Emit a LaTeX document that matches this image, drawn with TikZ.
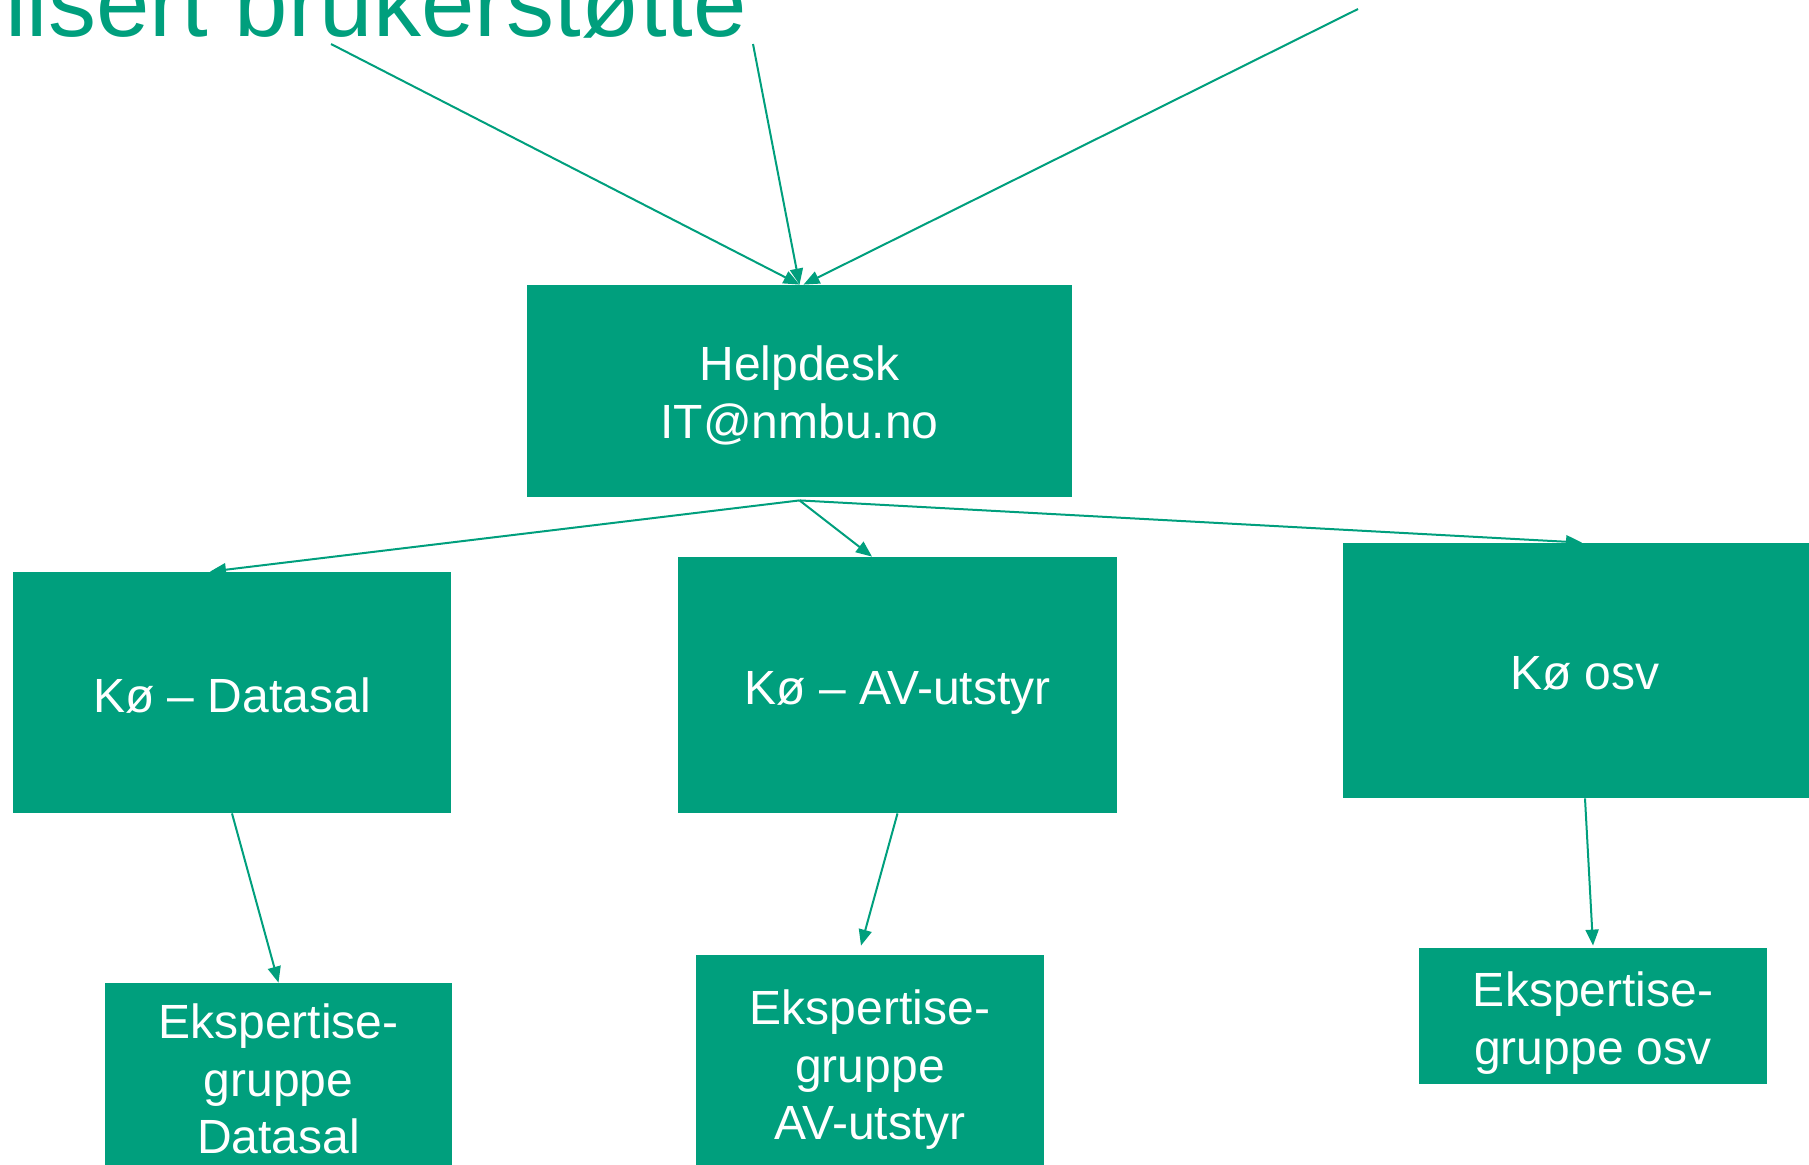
\documentclass[tikz,border=0pt]{standalone}
\usepackage{fontspec}
\setmainfont{Liberation Sans}
\usetikzlibrary{arrows.meta}
\definecolor{nmbu}{HTML}{009F7D}
\begin{document}
\begin{tikzpicture}[x=0.5pt,y=-0.5pt,
  box/.style={rectangle, fill=nmbu, inner sep=0pt},
  txt/.style={text=white, inner sep=0pt, align=center,
    font=\fontsize{24pt}{28.8pt}\selectfont},
  conn/.style={draw=nmbu, line width=1pt, -{Triangle[length=8pt,width=6.5pt]}}]
\useasboundingbox (0,0) rectangle (1809,1164);
\clip (0,0) rectangle (1809,1164);
\node[anchor=base west, inner sep=0pt, text=nmbu, font=\fontsize{48pt}{57pt}\selectfont] (title) at (5,36) {lisert brukerstøtte};
\coordinate (s1) at (331,44);
\coordinate (s2) at (753,44);
\coordinate (s3) at (1358,9);
\node[box, minimum width=272.5pt, minimum height=106pt] (help) at (799.5,391) {};
\node[box, minimum width=219pt, minimum height=120.5pt] (kd) at (232,692.5) {};
\node[box, minimum width=219.5pt, minimum height=128pt] (kav) at (897.5,685) {};
\node[box, minimum width=242pt, minimum height=127.5pt] (kosv) at (1585,670.5) {};
\node[box, minimum width=173.5pt, minimum height=96pt] (ed) at (278.5,1079) {};
\node[box, minimum width=174pt, minimum height=109pt] (eav) at (870,1064) {};
\node[box, minimum width=174pt, minimum height=68pt] (eosv) at (1593,1016) {};
\node[txt] (helpT) at ([yshift=-2.3pt]help.center) {Helpdesk\\IT@nmbu.no};
\node[txt] (kdT) at ([yshift=-1.7pt]kd.center) {Kø – Datasal};
\node[txt] (kavT) at ([yshift=-4pt]kav.center) {Kø – AV-utstyr};
\node[txt] (kosvT) at ([yshift=-1.7pt]kosv.center) {Kø osv};
\node[txt] (edT) at (ed.center) {Ekspertise-\\gruppe\\Datasal};
\node[txt] (eavT) at ([yshift=-2.9pt]eav.center) {Ekspertise-\\gruppe\\AV-utstyr};
\node[txt] (eosvT) at ([yshift=-3.5pt]eosv.center) {Ekspertise-\\gruppe osv};
\draw[conn] (s1) -- (help.north);
\draw[conn] (s2) -- (help.north);
\draw[conn] (s3) -- ([xshift=2pt]help.north);
\draw[conn] ([yshift=-1.5pt]help.south) -- ([xshift=-11pt]kd.north);
\draw[conn] ([yshift=-1.5pt]help.south) -- ([xshift=-12.75pt]kav.north);
\draw[conn] ([yshift=-1.5pt]help.south) -- ([xshift=-1.5pt]kosv.north);
\draw[conn] (kd.south) -- (ed.north);
\draw[conn] (kav.south) -- ([shift={(-4.5pt,4.5pt)}]eav.north);
\draw[conn] (kosv.south) -- ([yshift=1pt]eosv.north);
\end{tikzpicture}
\end{document}
